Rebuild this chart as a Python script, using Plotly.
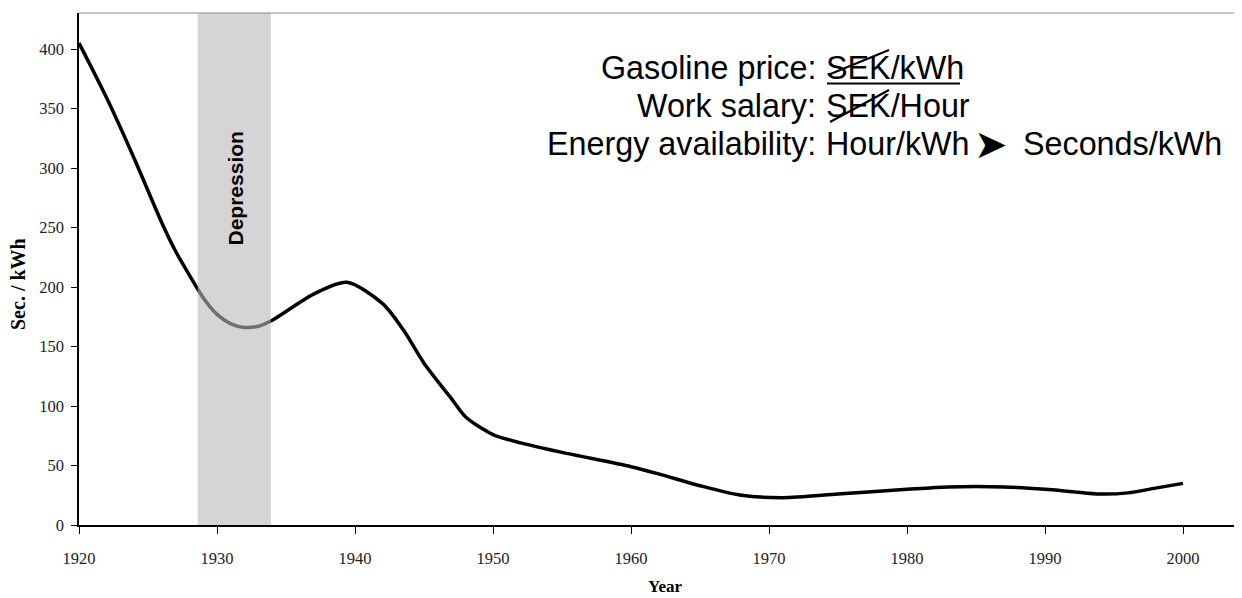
import plotly.graph_objects as go

# ---- data ----
years = [1920, 1922, 1924, 1926, 1927, 1928, 1929, 1930, 1931, 1932, 1933, 1934,
         1937, 1939.4, 1942, 1943.5, 1945, 1947, 1948, 1950, 1952, 1955, 1960,
         1962, 1965, 1968, 1971, 1975, 1980, 1983, 1987, 1990, 1992, 1994, 1996,
         1998, 2000]
sec_per_kwh = [405, 359, 308, 254, 230, 210, 191, 177, 169, 166, 167, 172,
               194, 204, 186, 164, 136, 106, 91, 76, 69, 61, 49,
               43, 33, 25, 23, 26, 30, 32, 32, 30, 28, 26, 27,
               31, 35]
depression = [1928.6, 1933.9]
x_ticks = [1920, 1930, 1940, 1950, 1960, 1970, 1980, 1990, 2000]
y_ticks = [0, 50, 100, 150, 200, 250, 300, 350, 400]

# the page body adds an 8px offset; compensate so the chart lands where it should
OFF = 8
W, H = 1242, 598
L, R, T, B = 79, 2, 13, 73
PW, PH = W - L - R, H - T - B


def px(x):
    return (x - L) / PW


def py(y):
    return (H - B - y) / PH


fig = go.Figure()
fig.add_trace(go.Scatter(
    x=years, y=sec_per_kwh, mode="lines",
    line=dict(color="black", width=3.5, shape="spline", smoothing=0.8),
    hoverinfo="skip", showlegend=False,
))

shapes = [
    dict(type="rect", xref="x", yref="y", x0=depression[0], x1=depression[1],
         y0=-3.4, y1=430.25, fillcolor="rgba(185,185,185,0.6)", line_width=0,
         layer="above"),
    dict(type="line", xref="paper", yref="paper", x0=0, x1=1.002, y0=1, y1=1,
         line=dict(color="#8c8c8c", width=1)),
    dict(type="line", xref="paper", yref="paper", x0=px(827), x1=px(960),
         y0=py(83.5), y1=py(83.5), line=dict(color="black", width=2.2)),
    dict(type="line", xref="paper", yref="paper", x0=px(828), x1=px(889),
         y0=py(75), y1=py(50), line=dict(color="black", width=2)),
    dict(type="line", xref="paper", yref="paper", x0=px(830), x1=px(889),
         y0=py(122), y1=py(90), line=dict(color="black", width=2)),
]

sans = "Liberation Sans, Arial, sans-serif"
serif = "Liberation Serif, Times New Roman, serif"
fs = 32.3


def ann(text, x, y, xanchor, size=fs, family=sans, **kw):
    return dict(text=text, x=px(x), y=py(y), xref="paper", yref="paper",
                xanchor=xanchor, yanchor="middle", showarrow=False,
                font=dict(family=family, size=size, color="black"), **kw)


annotations = [
    ann("Gasoline price:", 818, 68, "right"),
    ann("SEK/kWh", 824, 68, "left"),
    ann("Work salary:", 818, 106, "right"),
    ann("SEK/Hour", 824, 106, "left"),
    ann("Energy availability:", 818, 144, "right"),
    ann("Hour/kWh", 824, 144, "left"),
    ann("➤", 991, 144, "center", size=40, family="DejaVu Sans"),
    ann("Seconds/kWh", 1021, 144, "left"),
    ann("<b>Depression</b>", 234.5, 189, "center", size=21, textangle=-90),
    ann("<b>Sec. / kWh</b>", 18, 284, "center", size=20, family=serif, textangle=-90),
    ann("<b>Year</b>", 665, 586, "center", size=17, family=serif),
]

fig.update_layout(
    width=W - OFF, height=H - OFF,
    margin=dict(l=L - OFF, r=R, t=T - OFF, b=B, pad=0),
    paper_bgcolor="white", plot_bgcolor="white",
    shapes=shapes, annotations=annotations,
    showlegend=False,
    xaxis=dict(range=[1920, 1920 + PW / 13.8], tickvals=x_ticks,
               ticktext=[str(v) for v in x_ticks], showgrid=False, zeroline=False,
               showline=True, linecolor="black", linewidth=1.5,
               ticks="outside", ticklen=7, tickcolor="black", tickwidth=1,
               tickfont=dict(family=serif, size=16.5, color="#222"),
               ticklabelstandoff=10),
    yaxis=dict(range=[0, 430.25], tickvals=y_ticks,
               ticktext=[str(v) for v in y_ticks], showgrid=False, zeroline=False,
               showline=True, linecolor="black", linewidth=1.5,
               ticks="outside", ticklen=6, tickcolor="black", tickwidth=1,
               tickfont=dict(family=serif, size=16.5, color="#222"),
               ticklabelstandoff=4),
)

fig.write_html("out.html")
